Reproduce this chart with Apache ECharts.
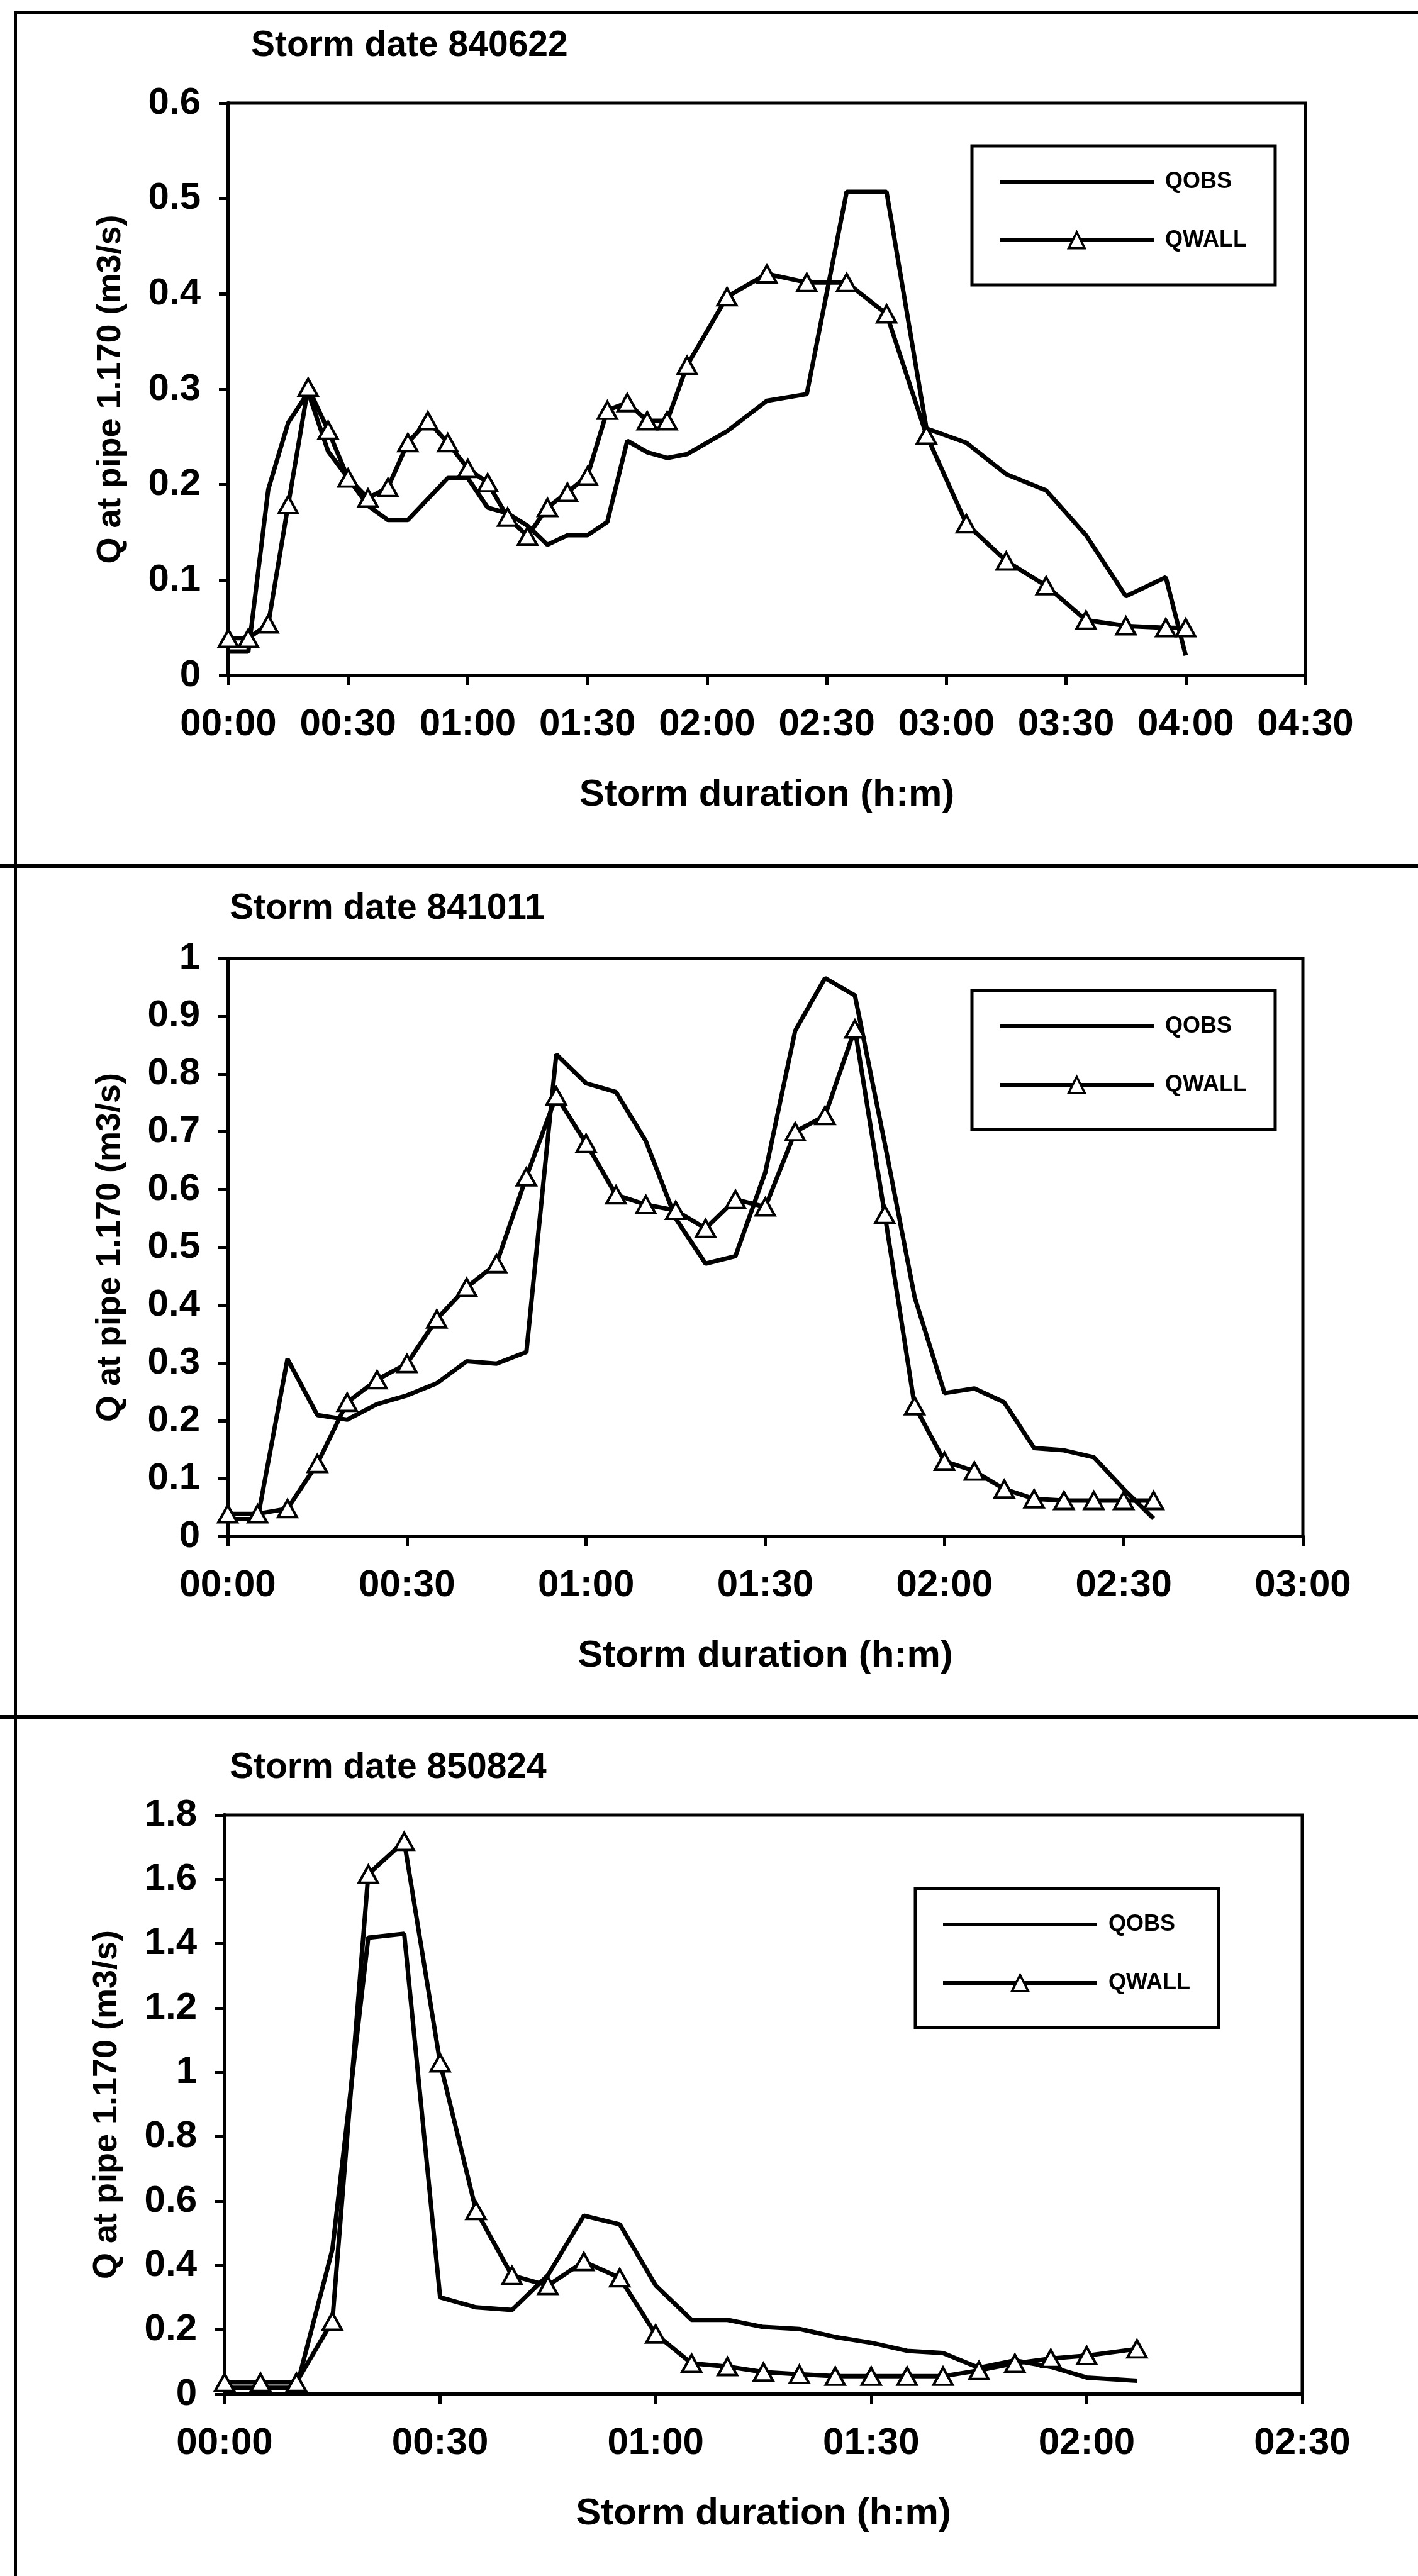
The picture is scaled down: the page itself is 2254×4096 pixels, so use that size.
<!DOCTYPE html>
<html><head><meta charset="utf-8">
<script src="https://cdn.jsdelivr.net/npm/echarts@6/dist/echarts.min.js"></script>
<style>html,body{margin:0;padding:0;background:#fff}#c{width:2254px;height:4096px}</style>
</head><body><div id="c"></div><script>
// ---- Panel 1: storm 840622 (time in minutes) ----
const p1Time  = [0,5,10,15,20,25,30,35,40,45,50,55,60,65,70,75,80,85,90,95,100,105,110,115,125,135,145,155,165,175,185,195,205,215,225,235,240];
const p1Qobs  = [0.025,0.025,0.195,0.265,0.297,0.235,0.207,0.178,0.163,0.163,0.185,0.207,0.207,0.176,0.17,0.157,0.137,0.147,0.147,0.161,0.246,0.234,0.228,0.232,0.256,0.288,0.295,0.507,0.507,0.259,0.244,0.211,0.194,0.147,0.083,0.103,0.021];
const p1Qwall = [0.039,0.039,0.054,0.179,0.302,0.257,0.207,0.186,0.197,0.244,0.267,0.244,0.217,0.202,0.166,0.146,0.176,0.192,0.209,0.278,0.286,0.267,0.267,0.325,0.397,0.421,0.412,0.412,0.379,0.252,0.159,0.120,0.094,0.058,0.052,0.050,0.050];
const p1XTicks = ['00:00','00:30','01:00','01:30','02:00','02:30','03:00','03:30','04:00','04:30'];

// ---- Panel 2: storm 841011 ----
const p2Time  = [0,5,10,15,20,25,30,35,40,45,50,55,60,65,70,75,80,85,90,95,100,105,110,115,120,125,130,135,140,145,150,155];
const p2Qobs  = [0.03,0.03,0.307,0.21,0.202,0.229,0.244,0.265,0.303,0.299,0.319,0.834,0.784,0.769,0.684,0.55,0.472,0.485,0.63,0.875,0.966,0.936,0.68,0.414,0.248,0.256,0.232,0.153,0.149,0.137,0.082,0.031];
const p2Qwall = [0.039,0.039,0.048,0.126,0.232,0.271,0.299,0.376,0.431,0.472,0.622,0.762,0.680,0.591,0.574,0.564,0.533,0.583,0.570,0.700,0.728,0.878,0.557,0.226,0.130,0.113,0.082,0.065,0.062,0.062,0.062,0.062];
const p2XTicks = ['00:00','00:30','01:00','01:30','02:00','02:30','03:00'];

// ---- Panel 3: storm 850824 ----
const p3Time  = [0,5,10,15,20,25,30,35,40,45,50,55,60,65,70,75,80,85,90,95,100,105,110,115,120,127];
const p3Qobs  = [0.02,0.02,0.02,0.45,1.419,1.431,0.301,0.27,0.262,0.37,0.555,0.528,0.338,0.231,0.231,0.209,0.203,0.178,0.160,0.135,0.128,0.082,0.105,0.085,0.052,0.042];
const p3Qwall = [0.037,0.037,0.037,0.227,1.616,1.718,1.030,0.571,0.369,0.338,0.412,0.362,0.187,0.096,0.086,0.069,0.062,0.056,0.056,0.056,0.056,0.074,0.096,0.111,0.120,0.141];
const p3XTicks = ['00:00','00:30','01:00','01:30','02:00','02:30'];

const titles = ['Storm date 840622','Storm date 841011','Storm date 850824'];
const yMax = [0.6, 1, 1.8];
const yStep = [0.1, 0.1, 0.2];
const seriesNames = ['QOBS','QWALL'];
const xName = 'Storm duration (h:m)';
const yName = 'Q at pipe 1.170 (m3/s)';

const FONT = "'Liberation Sans', Arial, sans-serif";
const panels = [
  {time:p1Time, qobs:p1Qobs, qwall:p1Qwall, ticks:p1XTicks},
  {time:p2Time, qobs:p2Qobs, qwall:p2Qwall, ticks:p2XTicks},
  {time:p3Time, qobs:p3Qobs, qwall:p3Qwall, ticks:p3XTicks}
];
// layout (pixels)
const gridPos = [
  {left:363, top:164, width:1712, height:910},
  {left:362, top:1524, width:1709, height:919},
  {left:357, top:2886, width:1713, height:921}
];
const legendPos = [{left:1545, top:232},{left:1545, top:1575},{left:1455, top:3003}];
const titlePos = [{left:399, top:45},{left:365, top:1417},{left:365, top:2783}];

const chart = echarts.init(document.getElementById('c'), null, {renderer:'canvas'});
const option = {
  animation:false,
  backgroundColor:'#fff',
  title: titles.map((t,i)=>({text:t, left:titlePos[i].left, top:titlePos[i].top, padding:0,
    textStyle:{fontFamily:FONT, fontSize:57, fontWeight:'bold', color:'#000'}})),
  grid: gridPos.map(g=>Object.assign({show:true, borderColor:'#000', borderWidth:5, backgroundColor:'transparent'}, g)),
  legend: legendPos.map((p,i)=>({
    left:p.left, top:p.top, orient:'vertical', data:seriesNames, selectedMode:false,
    itemWidth:245, itemHeight:32, itemGap:57, padding:[39,45,53,41],
    borderColor:'#000', borderWidth:5, backgroundColor:'#fff',
    lineStyle:{width:6, color:'#000'},
    itemStyle:{borderWidth:3.5},
    textStyle:{fontFamily:FONT, fontSize:36, fontWeight:'bold', color:'#000', padding:[0,0,0,13]}
  })),
  xAxis: panels.map((p,i)=>({
    type:'value', gridIndex:i, min:0, max:(p.ticks.length-1)*30, interval:30,
    name:xName, nameLocation:'middle', nameGap:160,
    nameTextStyle:{fontFamily:FONT, fontSize:60, fontWeight:'bold', color:'#000'},
    axisLine:{show:true, onZero:false, lineStyle:{color:'#000', width:6}},
    axisTick:{show:true, length:15, lineStyle:{color:'#000', width:5}},
    axisLabel:{fontFamily:FONT, fontSize:60, fontWeight:'bold', color:'#000', margin:48,
      formatter:(v)=>p.ticks[Math.round(v/30)]},
    splitLine:{show:false}
  })),
  yAxis: panels.map((p,i)=>({
    type:'value', gridIndex:i, min:0, max:yMax[i], interval:yStep[i],
    name:yName, nameLocation:'middle', nameGap:160, nameRotate:90,
    nameTextStyle:{fontFamily:FONT, fontSize:54, fontWeight:'bold', color:'#000'},
    axisLine:{show:true, lineStyle:{color:'#000', width:6}},
    axisTick:{show:true, length:15, lineStyle:{color:'#000', width:5}},
    axisLabel:{fontFamily:FONT, fontSize:60, fontWeight:'bold', color:'#000', margin:44},
    splitLine:{show:false}
  })),
  series: [],
  graphic: [
    {type:'line', shape:{x1:25,y1:20,x2:25,y2:4096}, style:{stroke:'#000', lineWidth:4}},
    {type:'line', shape:{x1:23,y1:20,x2:2254,y2:20}, style:{stroke:'#000', lineWidth:5}},
    {type:'line', shape:{x1:0,y1:1377,x2:2254,y2:1377}, style:{stroke:'#000', lineWidth:6}},
    {type:'line', shape:{x1:0,y1:2730,x2:2254,y2:2730}, style:{stroke:'#000', lineWidth:6}}
  ]
};
panels.forEach((p,i)=>{
  option.series.push({
    type:'line', name:seriesNames[0], xAxisIndex:i, yAxisIndex:i,
    data:p.time.map((t,k)=>[t,p.qobs[k]]), symbol:'none',
    lineStyle:{color:'#000', width:7},
    itemStyle:{color:'rgba(0,0,0,0)', borderColor:'rgba(0,0,0,0)', borderWidth:0}, z:2
  });
  option.series.push({
    type:'line', name:seriesNames[1], xAxisIndex:i, yAxisIndex:i,
    data:p.time.map((t,k)=>[t,p.qwall[k]]), symbol:'triangle', symbolSize:[30,27],
    lineStyle:{color:'#000', width:7}, itemStyle:{color:'#fff', borderColor:'#000', borderWidth:4}, z:3
  });
});
chart.setOption(option);
</script></body></html>
